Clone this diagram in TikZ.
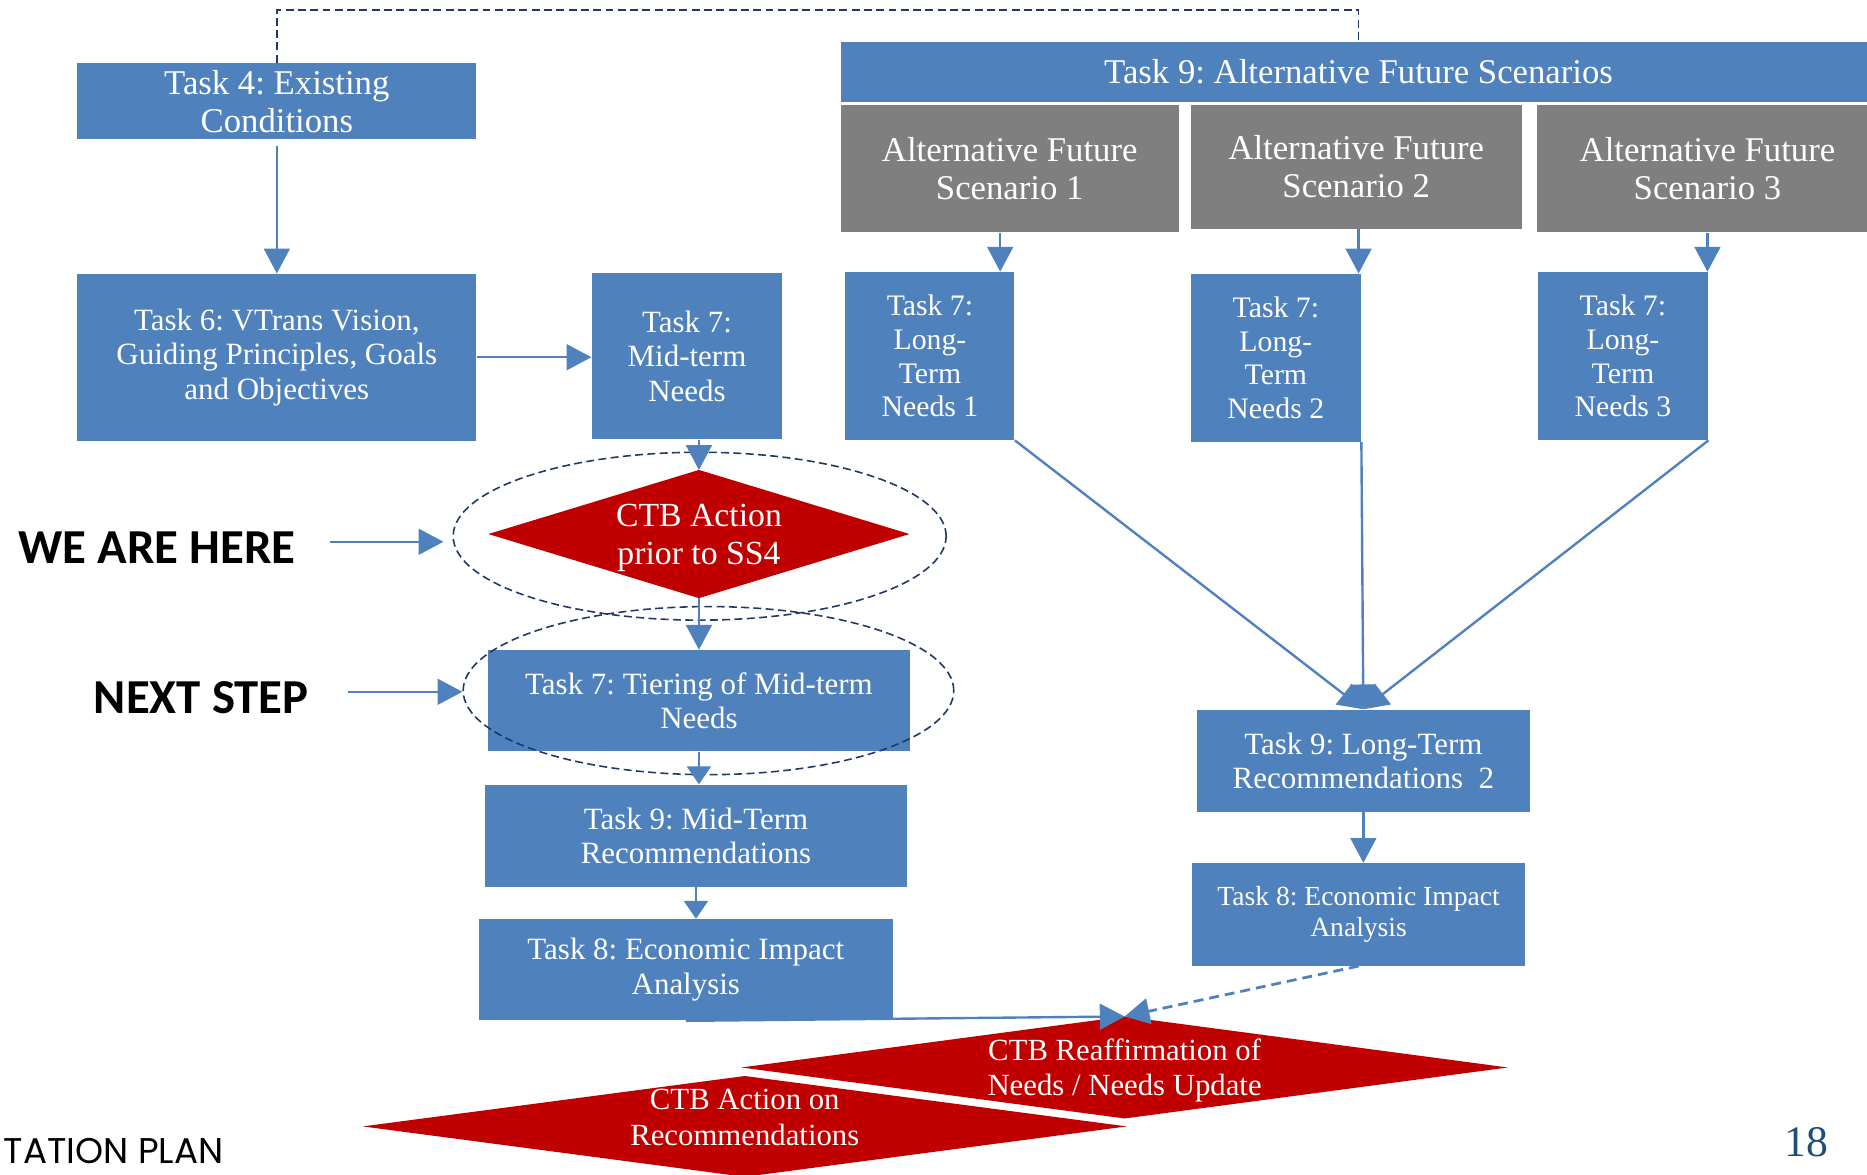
\documentclass[tikz,border=0pt]{standalone}
\usepackage{fontspec}
\setmainfont{Liberation Serif}
\newfontfamily\calib{Carlito}
\newfontfamily\geo{Poppins}
\usetikzlibrary{arrows.meta,shapes.geometric}
\definecolor{boxblue}{HTML}{4F81BD}
\definecolor{ctbred}{HTML}{C00000}
\definecolor{afsgray}{HTML}{7F7F7F}
\definecolor{navy}{HTML}{1F3864}
\definecolor{pgblue}{HTML}{1F4E79}
\newcommand\myfs[2]{\fontsize{#1}{#2}\selectfont}
\pgfdeclarelayer{bg}
\pgfsetlayers{bg,main}
\frenchspacing
\begin{document}
\begin{tikzpicture}[x=0.6pt,y=-0.6pt,
  box/.style={fill=boxblue,text=white,align=center,inner sep=0pt,font=\myfs{15.6}{17.4}},
  bigbox/.style={box,font=\myfs{17.5}{19.2}},
  gbox/.style={bigbox,fill=afsgray},
  ltbox/.style={box,font=\myfs{15}{17}},
  dia/.style={text=white,align=center,inner sep=0pt},
  arr/.style={draw=boxblue,line width=1.2pt,-{Triangle[width=13pt,length=12.5pt]}},
  sarr/.style={arr,-{Triangle[width=12pt,length=9pt]}},
  navydash/.style={draw=navy,line width=0.8pt,dash pattern=on 4pt off 2.2pt},
  ell/.style={navydash,ellipse,inner sep=0pt}
]
\useasboundingbox (0,0) rectangle (1568,986);

% ---- left column boxes
\node[bigbox,minimum width=201pt,minimum height=38.4pt] (t4) at (232.5,85) {Task 4: Existing\\Conditions};
\node[box,minimum width=201pt,minimum height=84pt] (t6) at (232.5,300) {Task 6: VTrans Vision,\\Guiding Principles, Goals\\and Objectives};
\node[box,minimum width=96pt,minimum height=84pt] (t7m) at (577,299) {Task 7:\\Mid-term\\Needs};
\node[box,minimum width=212.4pt,minimum height=51pt] (tier) at (587,588.5) {Task 7: Tiering of Mid-term\\Needs};
\node[box,minimum width=213pt,minimum height=51.6pt] (t9m) at (584.5,702) {Task 9: Mid-Term\\Recommendations};
\node[box,minimum width=208.8pt,minimum height=51pt] (t8l) at (576,814.5) {Task 8: Economic Impact\\Analysis};

% ---- right part
\node[bigbox,minimum width=522pt,minimum height=30.6pt] (head) at (1141,60.5) {Task 9: Alternative Future Scenarios};
\node[gbox,minimum width=170.4pt,minimum height=64.2pt] (afs1) at (848,141.5) {Alternative Future\\Scenario 1};
\node[gbox,minimum width=166.8pt,minimum height=62.4pt] (afs2) at (1139,140) {Alternative Future\\Scenario 2};
\node[gbox,minimum width=171.6pt,minimum height=64.2pt] (afs3) at (1434,141.5) {Alternative Future\\Scenario 3};
\node[ltbox,minimum width=85.2pt,minimum height=84.6pt] (lt1) at (781,299) {Task 7:\\Long-\\Term\\Needs 1};
\node[ltbox,minimum width=85.8pt,minimum height=84.6pt] (lt2) at (1071.5,300.5) {Task 7:\\Long-\\Term\\Needs 2};
\node[ltbox,minimum width=85.8pt,minimum height=84.6pt] (lt3) at (1363,299) {Task 7:\\Long-\\Term\\Needs 3};
\node[box,minimum width=168pt,minimum height=51.6pt] (ltr) at (1145,639) {Task 9: Long-Term\\Recommendations\ \ 2};
\node[box,font=\myfs{13.9}{15.6},minimum width=168pt,minimum height=51.6pt] (t8r) at (1141,768) {Task 8: Economic Impact\\Analysis};

% ---- diamonds
\node[dia,minimum width=211.8pt,minimum height=64.2pt] (d1) at (587,448.5) {};
\node[dia,font=\myfs{17}{19.2}] (d1t) at ([yshift=-1.8pt]d1.center) {CTB Action\\prior to SS4};
\node[dia,minimum width=385.8pt,minimum height=51pt] (d2) at (944.5,896.5) {};
\node[dia,font=\myfs{15.5}{17.7}] (d2t) at ([yshift=-1.5pt]d2.center) {CTB Reaffirmation of\\Needs / Needs Update};
\node[dia,minimum width=384.6pt,minimum height=50.4pt] (d3) at (625.5,946) {};
\node[dia,font=\myfs{15.5}{17.7}] (d3t) at ([yshift=4.5pt]d3.center) {CTB Action on\\Recommendations};
\begin{pgfonlayer}{bg}
\fill[ctbred] (d1.west)--(d1.north)--(d1.east)--(d1.south)--cycle;
\fill[ctbred] (d2.west)--(d2.north)--(d2.east)--(d2.south)--cycle;
\fill[ctbred] (d3.west)--(d3.north)--(d3.east)--(d3.south)--cycle;
\end{pgfonlayer}

% ---- side labels
\node[font=\calib\bfseries\myfs{24.6}{24.6},inner sep=0pt] (weh) at (132,460) {WE ARE HERE};
\node[font=\calib\bfseries\myfs{24.6}{24.6},inner sep=0pt] (ns) at (169,586) {NEXT STEP};
\node[font=\geo\myfs{18}{18},inner sep=0pt,anchor=west] (tp) at (3,967) {TATION PLAN};
\node[text=pgblue,font=\myfs{22}{22},inner sep=0pt] (pg) at (1517,959.5) {18};

% ---- ellipses
\node[ell,minimum width=248.4pt,minimum height=84.6pt] (e1) at (587.6,450.3) {};
\node[ell,minimum width=247.2pt,minimum height=84.7pt] (e2) at (595,580) {};

% ---- connectors
\coordinate (topc) at (232.5,8.4);
\draw[navydash] (t4.north) -- (topc) -| (head.north);
\draw[arr,shorten <=3pt] (t4.south) -- (t6.north);
\draw[arr] (t6.east) -- (t6.east -| t7m.west);
\draw[arr] (t7m.south -| d1.north) -- (d1.north);
\draw[arr] (d1.south) -- (tier.north);
\draw[sarr] (tier.south) -- (tier.south |- t9m.north);
\draw[sarr] (t9m.south) -- (t9m.south |- t8l.north);
\draw[arr] (t8l.south) -- (d2.north);
\draw[arr,line width=1.4pt,dash pattern=on 5pt off 3pt] (t8r.south) -- (d2.north);

\coordinate (c1) at (840,0);
\coordinate (c2) at (1141,0);
\draw[arr] (afs1.south -| c1) -- (lt1.north -| c1);
\draw[arr] (afs2.south -| c2) -- (lt2.north -| c2);
\draw[arr] (afs3.south) -- (afs3.south |- lt3.north);
\draw[arr] (lt1.south east) -- (ltr.north);
\draw[arr] (lt2.south east) -- (ltr.north);
\draw[arr] (lt3.south east) -- (ltr.north);
\draw[arr] (ltr.south) -- (ltr.south |- t8r.north);

\coordinate (wa) at (277,455);
\coordinate (na) at (292,581);
\draw[arr,shorten >=4.5pt] (wa) -- (wa -| e1.west);
\draw[arr] (na) -- (na -| e2.west);
\end{tikzpicture}
\end{document}
